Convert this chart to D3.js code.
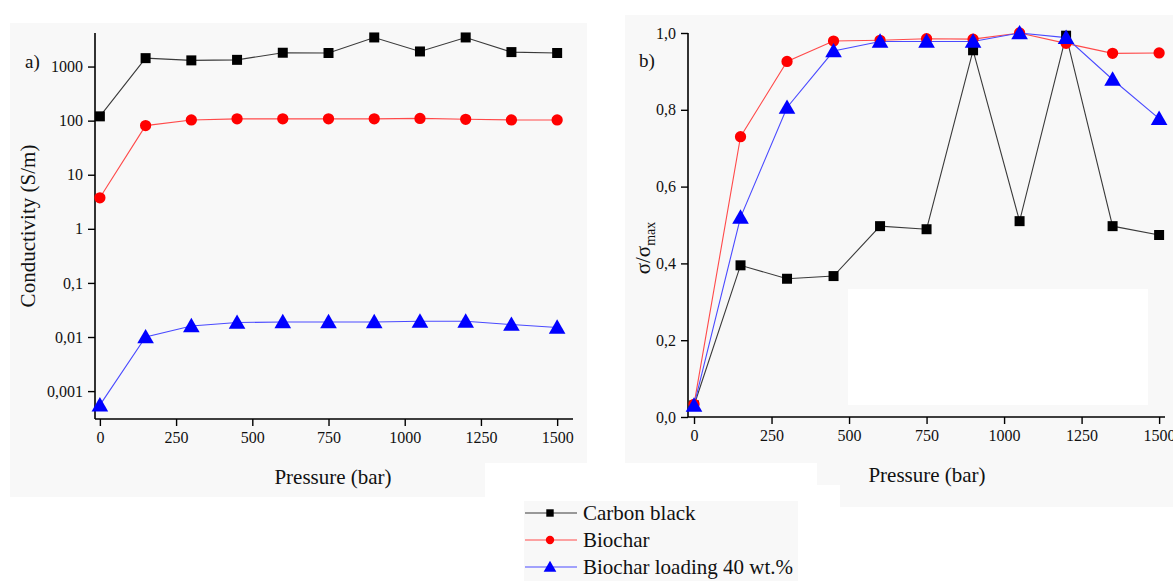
<!DOCTYPE html>
<html><head><meta charset="utf-8">
<script src="https://cdn.jsdelivr.net/npm/d3@7"></script>
<style>body{margin:0;background:#fff;} svg{display:block;} text{font-family:"Liberation Serif","DejaVu Serif",serif;fill:#111;}</style>
</head><body><svg id="c" width="1173" height="581"></svg>
<script>
const pressure = [0,150,300,450,600,750,900,1050,1200,1350,1500];
const seriesNames = ["Carbon black","Biochar","Biochar loading 40 wt.%"];
const condCarbon = [120,1430,1300,1330,1800,1780,3450,1900,3450,1850,1780];
const condBiochar = [3.75,81,103,108,108,108,108,110,106,103,103];
const condLoading = [0.00055,0.01,0.016,0.0185,0.019,0.019,0.019,0.0195,0.0195,0.017,0.015];
const normCarbon = [0.03,0.395,0.36,0.367,0.497,0.489,0.955,0.51,0.993,0.497,0.474];
const normBiochar = [0.033,0.73,0.926,0.979,0.981,0.985,0.984,1.0,0.973,0.947,0.948];
const normLoading = [0.03,0.52,0.806,0.953,0.978,0.978,0.978,1.0,0.988,0.879,0.777];
const xTicks = [0,250,500,750,1000,1250,1500];
const logTicks = [0.001,0.01,0.1,1,10,100,1000];
const logTickLabels = ["0,001","0,01","0,1","1","10","100","1000"];
const linTicks = [0,0.2,0.4,0.6,0.8,1.0];
const linTickLabels = ["0,0","0,2","0,4","0,6","0,8","1,0"];

const colors = ["#000000","#ff0000","#0000ff"];
const lineColors = ["#3a3a3a","#ff4a4a","#4a4aff"];
const shapes = [d3.symbolSquare, d3.symbolCircle, d3.symbolTriangle];
const symSizes = [100, 100, 120];

const svg = d3.select("#c");
const grey = "#f8f8f8";
// background patches
[[10,23,577,440],[10,463,475,34],[625,15,548,448],[817,463,356,22],[840,485,333,22],[524,501,274,80]].forEach(r=>{
  svg.append("rect").attr("x",r[0]).attr("y",r[1]).attr("width",r[2]).attr("height",r[3]).attr("fill",grey);
});

function drawPanel(opts){
  const g = svg.append("g");
  const x = d3.scaleLinear().domain(opts.xDomain).range(opts.xRange);
  const y = opts.y;
  // extra white patch
  if (opts.whiteRect) { const r=opts.whiteRect; g.append("rect").attr("x",r[0]).attr("y",r[1]).attr("width",r[2]).attr("height",r[3]).attr("fill","#fff"); }
  const xa = g.append("g").attr("transform",`translate(0,${opts.yRange[0]})`)
    .call(d3.axisBottom(x).tickValues(xTicks).tickSize(7).tickPadding(6).tickFormat(d3.format("d")));
  const ya = g.append("g").attr("transform",`translate(${opts.xRange[0]},0)`)
    .call(d3.axisLeft(y).tickValues(opts.yTicks).tickSize(7).tickPadding(5).tickFormat((d,i)=>opts.yLabels[i]));
  [xa,ya].forEach(a=>{
    a.select(".domain").attr("stroke","#000").attr("stroke-width",1.6);
    a.selectAll(".tick line").attr("stroke","#000").attr("stroke-width",1.4);
    a.selectAll(".tick text").style("font-size","16px").attr("fill","#111").style("font-family","'Liberation Serif',serif");
  });
  ya.select(".domain").attr("d",`M-0,${opts.yRange[0]}V${opts.yRange[1]}`);
  xa.select(".domain").attr("d",`M${opts.xRange[0]},0H${opts.xRange[1]}`);
  opts.data.forEach((vals,si)=>{
    const line = d3.line().x((d,i)=>x(pressure[i])).y(d=>y(d));
    g.append("path").datum(vals).attr("d",line).attr("fill","none").attr("stroke",lineColors[si]).attr("stroke-width",1.1);
  });
  opts.data.forEach((vals,si)=>{
    g.selectAll(null).data(vals).enter().append("path")
      .attr("transform",(d,i)=>`translate(${x(pressure[i])},${y(d)+(si===2?1.5:0)})`)
      .attr("d",d3.symbol().type(shapes[si]).size(symSizes[si]))
      .attr("fill",colors[si]);
  });
  return g;
}

// Panel a
const yLog = d3.scaleLog().domain([0.000305,4170]).range([419,33]);
drawPanel({xDomain:[-16,1552], xRange:[95,573], y:yLog, yRange:[419,33], yTicks:logTicks, yLabels:logTickLabels,
  data:[condCarbon,condBiochar,condLoading]});
// Panel b
const yLin = d3.scaleLinear().domain([0,1]).range([417,33]);
drawPanel({xDomain:[-19.4,1519], xRange:[688,1165], y:yLin, yRange:[417,33], yTicks:linTicks, yLabels:linTickLabels,
  data:[normCarbon,normBiochar,normLoading], whiteRect:[848,289,300,116]});

// labels
svg.append("text").attr("x",25).attr("y",68).style("font-size","19px").text("a)");
svg.append("text").attr("x",639).attr("y",67).style("font-size","19px").text("b)");
svg.append("text").attr("x",333).attr("y",484).attr("text-anchor","middle").style("font-size","21px").text("Pressure (bar)");
svg.append("text").attr("x",927).attr("y",482).attr("text-anchor","middle").style("font-size","21px").text("Pressure (bar)");
svg.append("text").attr("transform","translate(35,226) rotate(-90)").attr("text-anchor","middle").style("font-size","21px").text("Conductivity (S/m)");
const sl = svg.append("text").attr("transform","translate(650,248) rotate(-90)").attr("text-anchor","middle").style("font-size","21px");
sl.append("tspan").text("σ/σ");
sl.append("tspan").attr("dy",5).style("font-size","14px").text("max");

// legend
const lg = svg.append("g");
seriesNames.forEach((n,i)=>{
  const yy = 513 + i*27;
  lg.append("line").attr("x1",525).attr("x2",577).attr("y1",yy).attr("y2",yy).attr("stroke",lineColors[i]).attr("stroke-width",1.1);
  lg.append("path").attr("transform",`translate(550,${yy+(i===2?1:0)})`).attr("d",d3.symbol().type(shapes[i]).size(i===2?70:55)).attr("fill",colors[i]);
  lg.append("text").attr("x",583).attr("y",yy+7).style("font-size","21px").text(n);
});
</script></body></html>
